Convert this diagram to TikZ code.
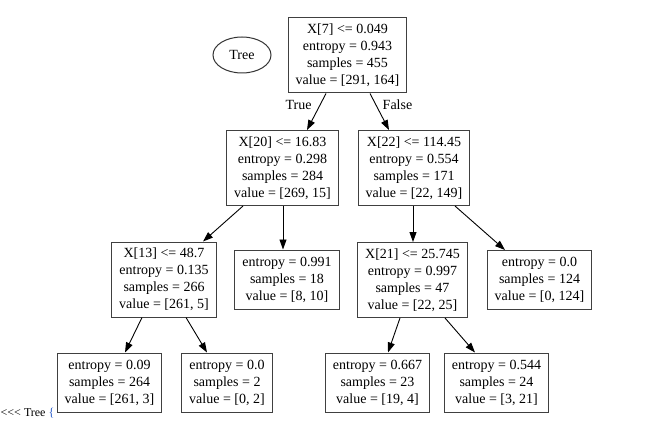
\documentclass[tikz,border=0pt]{standalone}
\usepackage{fontspec}
\setmainfont{Liberation Serif}
\usetikzlibrary{arrows.meta,shapes}
\definecolor{bracecol}{RGB}{40,90,200}
\tikzset{
  split/.style={draw=black!75,line width=1pt,rectangle,align=center,
    inner xsep=7.5pt,inner ysep=3pt,minimum height=75pt},
  leaf/.style={split,minimum height=59pt},
  edge/.style={line width=0.9pt,-{Triangle[length=10pt,width=7pt]}}
}

\begin{document}
\begin{tikzpicture}[x=1pt,y=-1pt,every node/.style={font=\fontsize{14}{17}\selectfont}]
\useasboundingbox (0,0) rectangle (658,441);

\node[ellipse,draw=black!80,line width=1pt,minimum width=58pt,minimum height=36pt,inner sep=0pt] (tree) at (242,55) {Tree};

% splits
\node[split] (n0) at (347.5,55.5) {X[7] <= 0.049\\entropy = 0.943\\samples = 455\\value = [291, 164]};
\node[split] (n1) at (282.5,168) {X[20] <= 16.83\\entropy = 0.298\\samples = 284\\value = [269, 15]};
\node[split] (n2) at (414,168) {X[22] <= 114.45\\entropy = 0.554\\samples = 171\\value = [22, 149]};
\node[split] (n3) at (164,279.5) {X[13] <= 48.7\\entropy = 0.135\\samples = 266\\value = [261, 5]};
\node[split] (n5) at (412.5,280) {X[21] <= 25.745\\entropy = 0.997\\samples = 47\\value = [22, 25]};

% leaves
\node[leaf] (n4) at (287,279.5) {entropy = 0.991\\samples = 18\\value = [8, 10]};
\node[leaf] (n6) at (539.5,280) {entropy = 0.0\\samples = 124\\value = [0, 124]};
\node[leaf] (n7) at (109.5,382.5) {entropy = 0.09\\samples = 264\\value = [261, 3]};
\node[leaf] (n8) at (227,382.5) {entropy = 0.0\\samples = 2\\value = [0, 2]};
\node[leaf] (n9) at (377.5,382.5) {entropy = 0.667\\samples = 23\\value = [19, 4]};
\node[leaf] (n10) at (496.5,382.5) {entropy = 0.544\\samples = 24\\value = [3, 21]};

\draw[edge] ([xshift=-21.5pt]n0.south) -- ([xshift=24.5pt]n1.north);
\draw[edge] ([xshift=22.5pt]n0.south) -- ([xshift=-25pt]n2.north);
\draw[edge] ([xshift=-39.5pt]n1.south) -- ([xshift=39pt]n3.north);
\draw[edge] ([xshift=0.5pt]n1.south) -- ([xshift=-4pt]n4.north);
\draw[edge] ([xshift=-1pt]n2.south) -- ([xshift=0.5pt]n5.north);
\draw[edge] ([xshift=41pt]n2.south) -- ([xshift=-34.5pt]n6.north);
\draw[edge] ([xshift=-22pt]n3.south) -- ([xshift=15.5pt]n7.north);
\draw[edge] ([xshift=22pt]n3.south) -- ([xshift=-20pt]n8.north);
\draw[edge] ([xshift=-12.5pt]n5.south) -- ([xshift=10.5pt]n9.north);
\draw[edge] ([xshift=32.5pt]n5.south) -- ([xshift=-21.5pt]n10.north);

\node (true) at (298.5,105) {True};
\node (false) at (397.5,105) {False};

\node[anchor=base west,inner sep=0pt,font=\fontsize{12}{14}\selectfont] (out) at (0.5,416) {<{}<{}< Tree \textcolor{bracecol}{\{}};
\end{tikzpicture}
\end{document}
